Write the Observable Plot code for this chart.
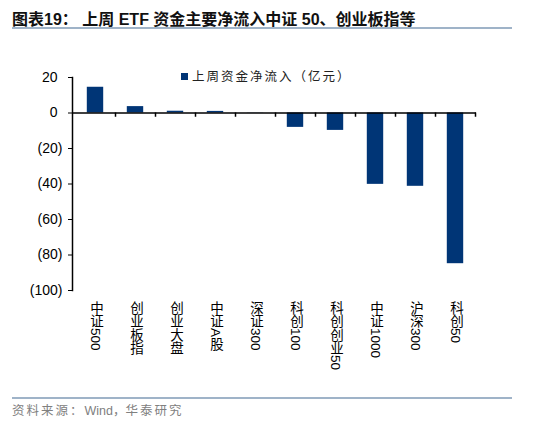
<!DOCTYPE html>
<html>
<head>
<meta charset="utf-8">
<script src="https://cdn.jsdelivr.net/npm/d3@7"></script>
<script src="https://cdn.jsdelivr.net/npm/@observablehq/plot@0.6"></script>
<style>
  body { margin: 0; background: #fff; }
  #wrap { position: relative; width: 550px; height: 427px; font-family: "Liberation Sans", Arial, "Noto Sans CJK SC", sans-serif; }
  #title { position: absolute; left: 12px; top: 6px; font-size: 16px; font-weight: bold; color: #111; white-space: nowrap; }
  .line { position: absolute; left: 12px; width: 500px; height: 2px; background: #9fb3c8; }
  #legend { position: absolute; left: 181px; top: 66px; font-size: 12.5px; color: #222; letter-spacing: 2px; white-space: nowrap; }
  #legend span.sw { display: inline-block; width: 7px; height: 7px; background: #003576; margin-right: 4px; vertical-align: 1px; }
  #source { position: absolute; left: 12px; top: 400px; font-size: 12.5px; color: #808080; white-space: nowrap; }
  #source .cn { letter-spacing: 2px; }
  #chart { position: absolute; left: 0; top: 40px; }
</style>
</head>
<body>
<div id="wrap">
  <div id="title">图表19： 上周 ETF 资金主要净流入中证 50、创业板指等</div>
  <div class="line" style="top:27px"></div>
  <div id="chart"></div>
  <div id="legend"><span class="sw"></span>上周资金净流入（亿元）</div>
  <div class="line" style="top:397px"></div>
  <div id="source"><span class="cn">资料来源：</span>Wind，<span class="cn">华泰研究</span></div>
</div>
<script>
// 上周 ETF 资金净流入（亿元）
let categories = ["中证500", "创业板指", "创业大盘", "中证A股", "深证300", "科创100", "科创创业50", "中证1000", "沪深300", "科创50"];
let values = [14.5, 3.6, 1.0, 0.9, 0.1, -8.1, -9.8, -40.2, -41.3, -84.9];
let yTicks = [20, 0, -20, -40, -60, -80, -100];

let barColor = "#003576";
let data = categories.map((c, i) => ({name: c, value: values[i]}));

let xRange = [75, 475];
let halfBand = (xRange[1] - xRange[0]) / categories.length / 2;

let plot = Plot.plot({
    width: 550,
    height: 355,
    marginTop: 37,
    marginBottom: 105,
    marginLeft: 72,
    marginRight: 74,
    style: {fontFamily: '"Liberation Sans", Arial, "Noto Sans CJK SC", sans-serif', color: "#000", background: "#fff"},
    x: {domain: categories, range: xRange, padding: 0},
    y: {domain: [-100, 20], label: null},
    marks: [
        Plot.barY(data, {x: "name", y: "value", fill: barColor, insetLeft: 11.8, insetRight: 11.8}),
        Plot.ruleY([0], {stroke: "#000", strokeWidth: 1.5}),
        // tick marks at category boundaries below the zero line
        Plot.ruleX(categories, {x: d => d, y1: 0, y2: -2.4, dx: halfBand, stroke: "#000", strokeWidth: 1.5}),
        Plot.frame({anchor: "left", stroke: "#000", strokeWidth: 1.5}),
        Plot.axisY({ticks: yTicks, tickSize: 4, tickPadding: 6, fontSize: 14, label: null,
            tickFormat: d => d < 0 ? `(${-d})` : `${d}`}),
        Plot.axisX({tickSize: 0, tickPadding: 1, fontSize: 13.5, label: null})
    ]
});

// vertical Chinese labels (characters upright, digits turned)
d3.select(plot).selectAll('[aria-label="x-axis tick label"] text')
    .attr("dy", null)
    .attr("text-anchor", "start")
    .style("writing-mode", "vertical-rl")
    .style("text-orientation", "mixed");

// Excel style: positive numbers leave room for the closing bracket
d3.select(plot).selectAll('[aria-label="y-axis tick label"] text')
    .attr("dx", function() { return this.textContent.startsWith("(") ? null : -5; });

document.querySelector("#chart").append(plot);
</script>
</body>
</html>
